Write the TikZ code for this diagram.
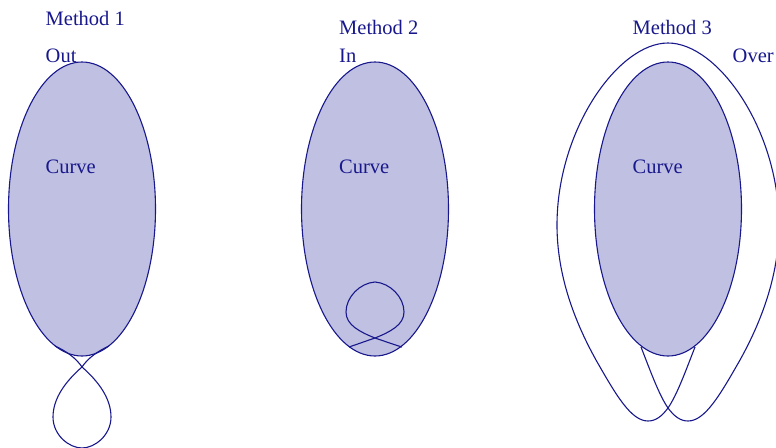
\documentclass[tikz,border=0pt]{standalone}
\usepackage{fontspec}
\setmainfont{Liberation Serif}
\usetikzlibrary{shapes.geometric}
\definecolor{ink}{RGB}{24,24,140}
\definecolor{lav}{RGB}{192,192,226}
\begin{document}
\begin{tikzpicture}[x=1pt,y=-1pt,
  curveshape/.style={ellipse,draw=ink,fill=lav,line width=1.1pt,inner sep=0pt,
     minimum width=147pt,minimum height=294pt},
  lbl/.style={anchor=base west,inner sep=0pt,text=ink,font=\fontsize{20.5}{24}\selectfont},
  joinline/.style={draw=ink,line width=1.1pt}]
\useasboundingbox (0,0) rectangle (776,447);
\begin{scope}
\clip (0,0) rectangle (776,447);
% ellipses
\node[curveshape] (e1) at (82,209) {};
\node[curveshape] (e2) at (375,209) {};
\node[curveshape] (e3) at (668,209) {};
% labels
\node[lbl] (m1) at (45.5,25.5) {Method 1};
\node[lbl] (o1) at (45.5,62) {Out};
\node[lbl] (c1) at (45.5,173) {Curve};
\node[lbl] (m2) at (339,34.5) {Method 2};
\node[lbl] (o2) at (339,62) {In};
\node[lbl] (c2) at (339,173) {Curve};
\node[lbl] (m3) at (632.5,34.5) {Method 3};
\node[lbl] (o3) at (732.5,62) {Over};
\node[lbl] (c3) at (632.5,173) {Curve};
% method 1 loop
\draw[joinline] (55,346) .. controls (66,351) and (76,358) .. (82,367)
  .. controls (98,381) and (111,398) .. (111,417)
  .. controls (111,435) and (95,448) .. (82,448)
  .. controls (69,448) and (53,435) .. (53,417)
  .. controls (53,398) and (66,381) .. (82,367)
  .. controls (88,358) and (98,351) .. (109,346);
% method 2 loop
\draw[joinline] (349,347) .. controls (358,344) and (366,341) .. (375,338)
  .. controls (390,332) and (404,325) .. (404,312)
  .. controls (404,297) and (390,283) .. (375,282)
  .. controls (360,283) and (346,297) .. (346,312)
  .. controls (346,325) and (360,332) .. (375,338)
  .. controls (384,341) and (392,344) .. (402,347);
% method 3 outer loop
\draw[joinline] (641,347) .. controls (650,370) and (659,395) .. (668,408)
  .. controls (674,416) and (680,421) .. (688,421)
  .. controls (705,421) and (720,395) .. (740,360)
  .. controls (765,315) and (779,270) .. (779,225)
  .. controls (779,130) and (718,43) .. (668,43)
  .. controls (618,43) and (557,130) .. (557,225)
  .. controls (557,270) and (571,315) .. (596,360)
  .. controls (616,395) and (631,421) .. (648,421)
  .. controls (656,421) and (662,416) .. (668,408)
  .. controls (677,395) and (686,370) .. (695,347);
\end{scope}
\end{tikzpicture}
\end{document}
